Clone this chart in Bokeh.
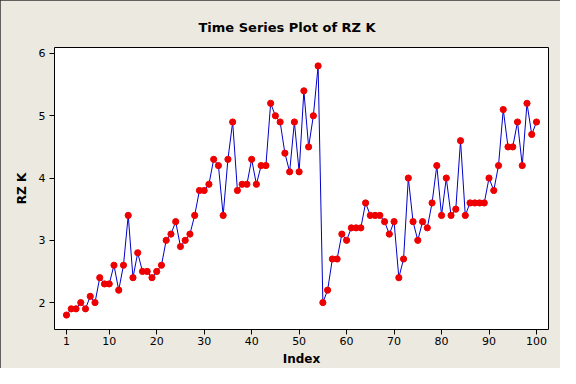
from bokeh.plotting import figure
from bokeh.models import Range1d, FixedTicker, ColumnDataSource
from bokeh.embed import file_html
from bokeh.resources import INLINE

index = list(range(1, 101))
rz_k = [1.8, 1.9, 1.9, 2.0, 1.9, 2.1, 2.0, 2.4, 2.3, 2.3,
        2.6, 2.2, 2.6, 3.4, 2.4, 2.8, 2.5, 2.5, 2.4, 2.5,
        2.6, 3.0, 3.1, 3.3, 2.9, 3.0, 3.1, 3.4, 3.8, 3.8,
        3.9, 4.3, 4.2, 3.4, 4.3, 4.9, 3.8, 3.9, 3.9, 4.3,
        3.9, 4.2, 4.2, 5.2, 5.0, 4.9, 4.4, 4.1, 4.9, 4.1,
        5.4, 4.5, 5.0, 5.8, 2.0, 2.2, 2.7, 2.7, 3.1, 3.0,
        3.2, 3.2, 3.2, 3.6, 3.4, 3.4, 3.4, 3.3, 3.1, 3.3,
        2.4, 2.7, 4.0, 3.3, 3.0, 3.3, 3.2, 3.6, 4.2, 3.4,
        4.0, 3.4, 3.5, 4.6, 3.4, 3.6, 3.6, 3.6, 3.6, 4.0,
        3.8, 4.2, 5.1, 4.5, 4.5, 4.9, 4.2, 5.2, 4.7, 4.9]
x_ticks = [1, 10, 20, 30, 40, 50, 60, 70, 80, 90, 100]
y_ticks = [2, 3, 4, 5, 6]

FONT = "DejaVu Sans"
BG = "#ECE9E0"

src = ColumnDataSource(dict(x=index, y=rz_k))

p = figure(width=560, height=368, output_backend="svg", toolbar_location=None,
           x_range=Range1d(-1.53, 102.53), y_range=Range1d(1.568, 6.096),
           min_border_left=54, min_border_right=12, min_border_top=47,
           min_border_bottom=38,
           background_fill_color="white", border_fill_color=BG,
           title="Time Series Plot of RZ K")

p.title.align = "left"
p.title.text_font = FONT
p.title.text_font_size = "13px"
p.title.text_font_style = "bold"
p.title.text_color = "black"
p.title.offset = 144
p.title.standoff = 25

p.outline_line_color = "black"
p.outline_line_width = 1
p.xgrid.visible = False
p.ygrid.visible = False

p.line("x", "y", source=src, line_color="#0000C8", line_width=1)
p.scatter("x", "y", source=src, size=6.2, fill_color="#EE0000", line_color="#EE0000")

for ax in (p.xaxis[0], p.yaxis[0]):
    ax.axis_line_color = None
    ax.major_tick_line_color = "black"
    ax.major_tick_out = 5
    ax.major_tick_in = 0
    ax.minor_tick_line_color = None
    ax.major_label_text_font = FONT
    ax.major_label_text_font_size = "11px"
    ax.major_label_text_color = "black"
    ax.axis_label_text_font = FONT
    ax.axis_label_text_font_size = "12px"
    ax.axis_label_text_font_style = "bold"
    ax.axis_label_text_color = "black"

p.xaxis.ticker = FixedTicker(ticks=x_ticks)
p.yaxis.ticker = FixedTicker(ticks=y_ticks)
p.xaxis.axis_label = "Index"
p.yaxis.axis_label = "RZ K"
p.xaxis.major_label_standoff = 2
p.yaxis.major_label_standoff = 4
p.xaxis.axis_label_standoff = 4
p.yaxis.axis_label_standoff = 7

p.stylesheets = [":host { outline: 1px solid #333; outline-offset: -1px; }"]

open("out.html", "w").write(file_html(p, INLINE))
